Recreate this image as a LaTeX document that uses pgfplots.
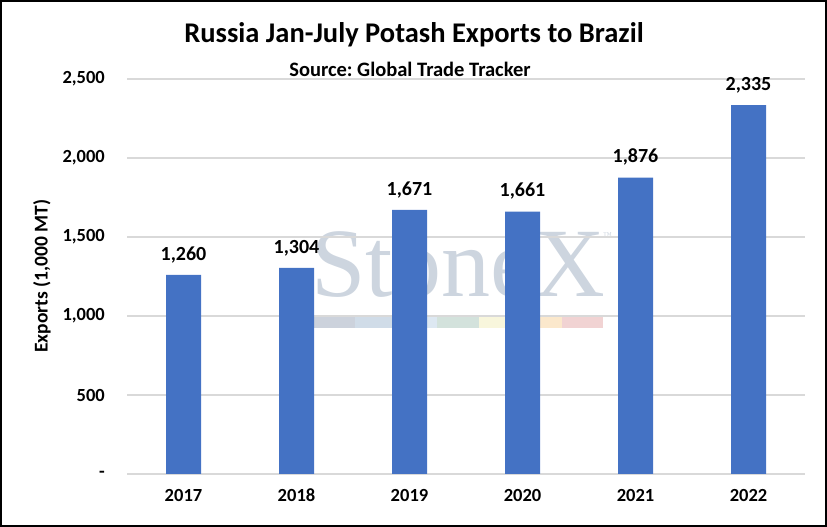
\documentclass[border=0pt]{standalone}
\usepackage{pgfplots}
\pgfplotsset{compat=1.18}
\usepackage{fontspec}
\setmainfont{Carlito}
\newfontfamily\wmfont{Liberation Serif}
\definecolor{barblue}{HTML}{4472C4}
\definecolor{gridgray}{HTML}{D9D9D9}
\definecolor{wm}{HTML}{CDD5DF}
\definecolor{s1}{HTML}{CCD2DC}
\definecolor{s2}{RGB}{208,220,232}
\definecolor{s3}{RGB}{221,232,242}
\definecolor{s4}{RGB}{211,226,220}
\definecolor{s5}{RGB}{248,246,220}
\definecolor{s6}{RGB}{251,232,204}
\definecolor{s7}{RGB}{241,211,211}
\frenchspacing
\begin{document}
\begin{tikzpicture}[x=1pt,y=1pt]
\useasboundingbox (0,0) rectangle (827,527);
% watermark
\node[anchor=base west, inner sep=0, text=wm, font=\wmfont\fontsize{98}{98}\selectfont] at (311,230) {StoneX};
\node[anchor=base west, inner sep=0, text=wm, font=\wmfont\fontsize{9}{9}\selectfont] at (603,288) {™};
\fill[s1] (313,199) rectangle (355,210);
\fill[s2] (355,199) rectangle (396,210);
\fill[s3] (396,199) rectangle (437,210);
\fill[s4] (437,199) rectangle (479,210);
\fill[s5] (479,199) rectangle (520,210);
\fill[s6] (520,199) rectangle (562,210);
\fill[s7] (562,199) rectangle (603,210);
\begin{axis}[
  at={(127pt,53pt)}, anchor=south west,
  width=678pt, height=395pt, scale only axis,
  xmin=-0.5, xmax=5.5, ymin=0, ymax=2500,
  ytick={0,500,1000,1500,2000,2500},
  yticklabels={-,500,{1,000},{1,500},{2,000},{2,500}},
  xtick={0,1,2,3,4,5},
  xticklabels={2017,2018,2019,2020,2021,2022},
  major tick length=0pt,
  axis line style={draw=none},
  ymajorgrids,
  grid style={gridgray, line width=1.5pt},
  ticklabel style={font=\fontsize{18.5}{22}\selectfont\bfseries, inner sep=0pt},
  yticklabel style={anchor=east, xshift=-22pt},
  xticklabel style={anchor=north, yshift=-15pt},
  /pgf/number format/assume math mode=true,
  clip=false,
]
\addplot[ybar, bar width=35pt, fill=barblue, draw=none,
  nodes near coords,
  nodes near coords style={anchor=south, inner sep=0pt, yshift=12pt, font=\fontsize{20}{24}\selectfont\bfseries, text=black,
    /pgf/number format/.cd, fixed, 1000 sep={,}, assume math mode=true},
] coordinates {(0,1260) (1,1304) (2,1671) (3,1661) (4,1876) (5,2335)};
\end{axis}
\node[rotate=90, font=\fontsize{19.5}{23}\selectfont\bfseries] at (42,251) {Exports (1,000 MT)};
\node[font=\fontsize{28.5}{34}\selectfont\bfseries] at (414,492) {Russia Jan-July Potash Exports to Brazil};
\node[font=\fontsize{20.5}{24}\selectfont\bfseries] at (410,458) {Source: Global Trade Tracker};
\draw[black, line width=2pt] (1,1) rectangle (826,526);
\end{tikzpicture}
\end{document}
